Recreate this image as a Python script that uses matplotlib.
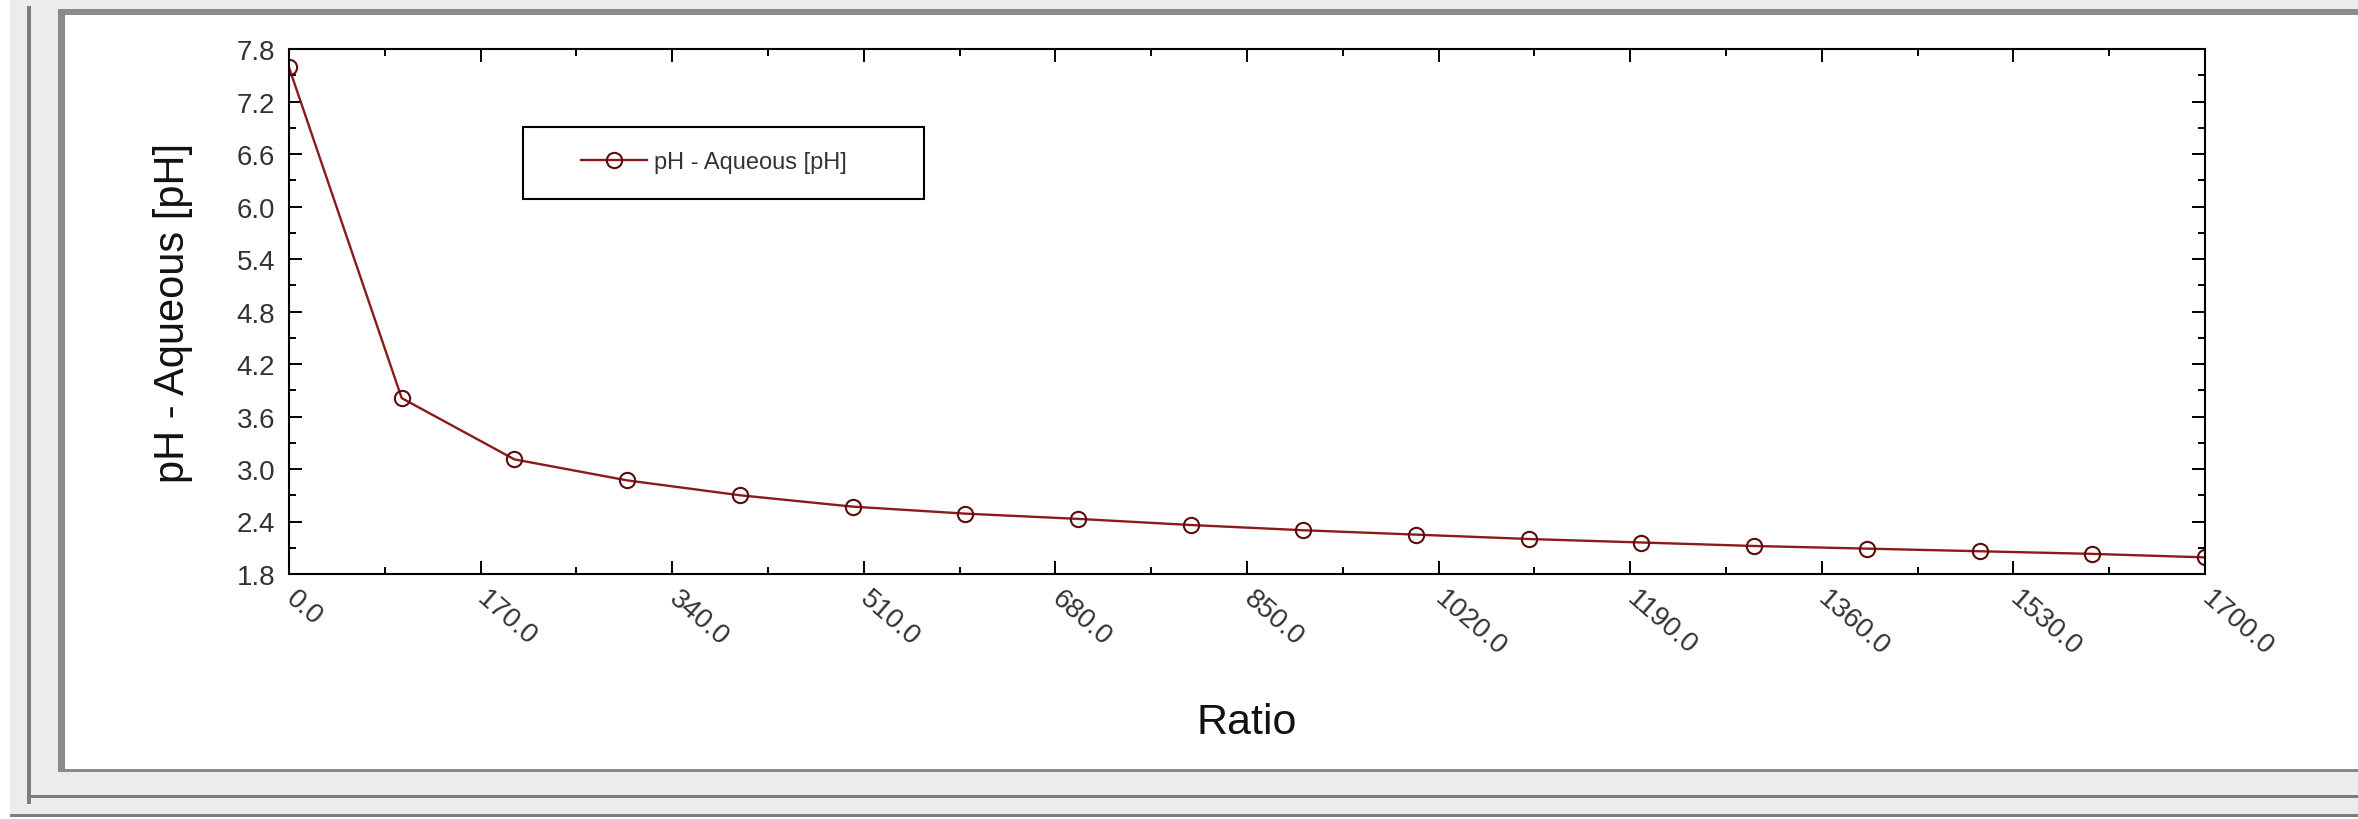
import numpy as np
import matplotlib
matplotlib.use("Agg")
import matplotlib.pyplot as plt
from matplotlib.patches import Rectangle
from matplotlib.ticker import MultipleLocator, FormatStrFormatter

plt.rcParams['font.family'] = ['Liberation Sans', 'DejaVu Sans']

# values
ratio = [0, 100, 200, 300, 400, 500, 600, 700, 800, 900,
         1000, 1100, 1200, 1300, 1400, 1500, 1600, 1700]
ph_aqueous = [7.59, 3.81, 3.11, 2.87, 2.70, 2.57, 2.49, 2.43, 2.36, 2.30,
              2.25, 2.20, 2.16, 2.12, 2.09, 2.06, 2.03, 1.99]
series_label = 'pH - Aqueous [pH]'
x_title = 'Ratio'
y_title = 'pH - Aqueous [pH]'

W, H = 2358, 820
fig = plt.figure(figsize=(W / 100, H / 100), dpi=100, facecolor='#ececec')


def px_rect(x0, y0, x1, y1, **kw):
    # rectangle given in pixel coords of the screenshot (y down)
    r = Rectangle((x0 / W, 1 - y1 / H), (x1 - x0) / W, (y1 - y0) / H,
                  transform=fig.transFigure, **kw)
    fig.add_artist(r)
    return r


# window frame around the plot (screenshot look)
px_rect(0, 0, 10, H, facecolor='white', edgecolor='none', zorder=-10)
px_rect(0, 815, W, H, facecolor='white', edgecolor='none', zorder=-10)
px_rect(27, 7, 31, 805, facecolor='#7d7d7d', edgecolor='none', zorder=-9)
px_rect(58, 10, W, 16, facecolor='#8a8a8a', edgecolor='none', zorder=-9)
px_rect(58, 10, 65, 772, facecolor='#8a8a8a', edgecolor='none', zorder=-9)
px_rect(65, 16, W, 770, facecolor='white', edgecolor='none', zorder=-8)
px_rect(58, 770, W, 773, facecolor='#8a8a8a', edgecolor='none', zorder=-9)
px_rect(29, 796, W, 799, facecolor='#7d7d7d', edgecolor='none', zorder=-9)
px_rect(10, 815, W, 818, facecolor='#7d7d7d', edgecolor='none', zorder=-9)

ax = fig.add_axes([289 / W, 1 - 575 / H, (2205 - 289) / W, (575 - 50) / H])
ax.set_facecolor('white')

ax.plot(ratio, ph_aqueous, color='#8b1a1a', lw=1.7, marker='o', markersize=11,
        mfc='none', mec='#5c0c0c', mew=1.5, label=series_label)

ax.set_xlim(0, 1700)
ax.set_ylim(1.8, 7.8)
ax.xaxis.set_major_locator(MultipleLocator(170))
ax.xaxis.set_minor_locator(MultipleLocator(85))
ax.yaxis.set_major_locator(MultipleLocator(0.6))
ax.yaxis.set_minor_locator(MultipleLocator(0.3))
ax.xaxis.set_major_formatter(FormatStrFormatter('%.1f'))
ax.yaxis.set_major_formatter(FormatStrFormatter('%.1f'))

for s in ax.spines.values():
    s.set_linewidth(1.5)
    s.set_color('black')

ax.tick_params(which='both', direction='in', top=True, right=True,
               width=1.4, color='black', labelcolor='#333333', labelsize=20)
ax.tick_params(which='major', length=9.5)
ax.tick_params(which='minor', length=5)
ax.tick_params(axis='y', pad=10)
ax.tick_params(axis='x', pad=15)
for lbl in ax.get_xticklabels():
    lbl.set_rotation(-41)
    lbl.set_ha('left')
    lbl.set_va('center')
    lbl.set_rotation_mode('anchor')

ax.set_xlabel(x_title, fontsize=31, color='#111111')
ax.xaxis.set_label_coords(0.5, -0.243)
ax.set_ylabel(y_title, fontsize=30, color='#111111')
ax.yaxis.set_label_coords(-0.050, 0.5)

leg = ax.legend(loc='center', bbox_to_anchor=(714 / W, 1 - 163 / H),
                bbox_transform=fig.transFigure, frameon=False, fontsize=17,
                handlelength=2.8, handletextpad=0.3, borderpad=0)
for t in leg.get_texts():
    t.set_color('#333333')
box = Rectangle((523 / W, 1 - 200 / H), (924 - 523) / W, (200 - 128) / H,
                transform=fig.transFigure, facecolor='none', edgecolor='black',
                lw=1.5, clip_on=False, zorder=5)
ax.add_patch(box)

fig.savefig('out.png', dpi=100, facecolor=fig.get_facecolor())
